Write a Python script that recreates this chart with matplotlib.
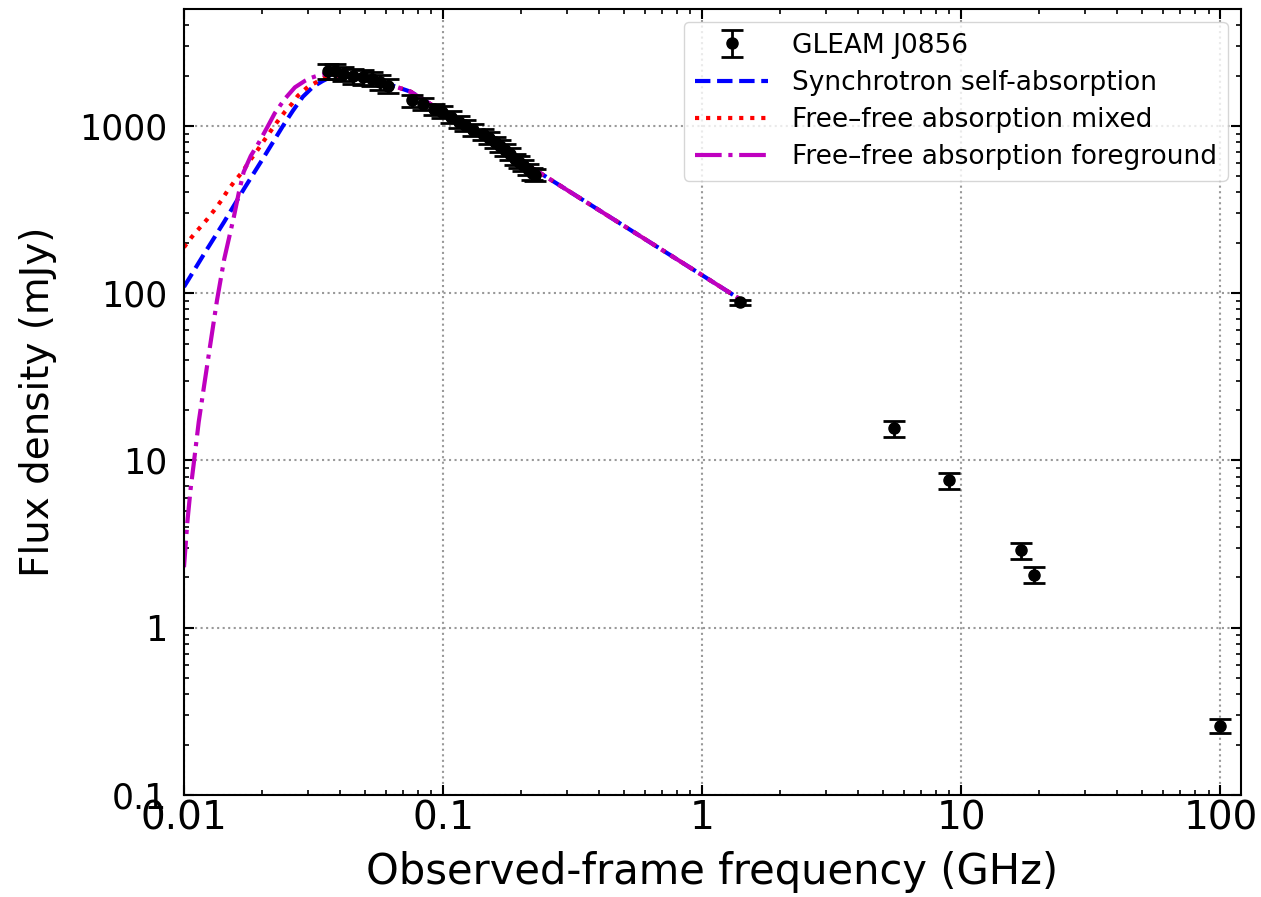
"""Radio SED of GLEAM J0856 with three absorption model fits."""

import matplotlib

matplotlib.use("Agg")
import matplotlib.pyplot as plt  # noqa: E402

# observed data (GHz, mJy)
nu_ghz = [0.0359, 0.0381, 0.0410, 0.0449, 0.0491, 0.0532, 0.0570, 0.0612,
          0.076, 0.084, 0.092, 0.099, 0.107, 0.115, 0.122, 0.130, 0.143,
          0.151, 0.158, 0.166, 0.174, 0.181, 0.189, 0.197, 0.204, 0.212,
          0.220, 0.227,
          1.4, 5.5, 9.0, 17.0, 19.0, 100.0]
flux_mjy = [2130, 2120, 2050, 1990, 1960, 1910, 1830, 1740,
            1420, 1350, 1260, 1210, 1130, 1060, 1010, 950, 890,
            850, 800, 760, 720, 680, 630, 610, 580, 550,
            520, 510,
            88, 15.6, 7.6, 2.9, 2.07, 0.26]
err_mjy = [210, 210, 200, 200, 195, 190, 180, 175,
           115, 110, 100, 97, 90, 85, 80, 76, 71,
           68, 64, 61, 58, 54, 50, 49, 46, 44,
           42, 41,
           3, 1.7, 0.85, 0.33, 0.23, 0.025]

# model curves
ssa_nu = [0.0100, 0.01194, 0.01427, 0.01704, 0.02035, 0.0241, 0.0263, 0.02875,
          0.0315, 0.03437, 0.03723, 0.040, 0.045, 0.050, 0.060, 0.075, 0.10,
          0.15, 0.24, 0.5, 1.0, 1.4]
ssa_mjy = [109, 171, 266, 420, 652, 1000, 1230, 1493,
           1714, 1859, 1975, 2000, 1980, 1930, 1800, 1600, 1210,
           817, 516, 252, 128, 92]

ffa_mix_nu = [0.0100, 0.0107, 0.0114, 0.0123, 0.0131, 0.0139, 0.0147, 0.0156,
              0.0168, 0.0178, 0.0190, 0.0202, 0.0215, 0.0229, 0.0245, 0.0261,
              0.0275, 0.0301, 0.0326, 0.035, 0.0385, 0.045, 0.050, 0.060,
              0.075, 0.10, 0.15, 0.24, 0.5, 1.0, 1.4]
ffa_mix_mjy = [188, 216, 242, 277, 314, 356, 408, 462,
               531, 608, 698, 802, 921, 1057, 1213, 1355,
               1513, 1714, 1833, 1950, 2000, 1980, 1930, 1800,
               1600, 1210, 817, 516, 252, 128, 92]

ffa_fg_nu = [0.0100, 0.0103, 0.0106, 0.0109, 0.0114, 0.0120, 0.0126, 0.0134,
             0.0143, 0.0156, 0.0163, 0.0170, 0.0181, 0.0195, 0.0211, 0.0224,
             0.0245, 0.0268, 0.0293, 0.031, 0.0326, 0.0345, 0.037, 0.040,
             0.045, 0.050, 0.060, 0.075, 0.10, 0.15, 0.24, 0.5, 1.0, 1.4]
ffa_fg_mjy = [2.3, 4.25, 6.7, 9.5, 17, 29, 48, 90,
              160, 289, 403, 531, 661, 800, 1000, 1190,
              1451, 1700, 1860, 1940, 1990, 2030, 2040, 2020,
              1980, 1930, 1800, 1600, 1210, 817, 516, 252, 128, 92]

xtick_vals = [0.01, 0.1, 1, 10, 100]
xtick_labels = ["0.01", "0.1", "1", "10", "100"]
ytick_vals = [0.1, 1, 10, 100, 1000]
ytick_labels = ["0.1", "1", "10", "100", "1000"]

fig = plt.figure(figsize=(12.61, 8.97), dpi=100)
ax = fig.add_axes([0.1459, 0.1137, 0.8382, 0.8763])

h_data = ax.errorbar(nu_ghz, flux_mjy, yerr=err_mjy, fmt="o", color="k",
                     ms=8, capsize=8, capthick=2, elinewidth=2,
                     label="GLEAM J0856", zorder=4)
h_ssa, = ax.plot(ssa_nu, ssa_mjy, "--", color="b", lw=3,
                 label="Synchrotron self-absorption")
h_mix, = ax.plot(ffa_mix_nu, ffa_mix_mjy, ":", color="r", lw=3,
                 label="Free\u2013free absorption mixed")
h_fg, = ax.plot(ffa_fg_nu, ffa_fg_mjy, "-.", color="m", lw=3,
                label="Free\u2013free absorption foreground")

ax.set_xscale("log")
ax.set_yscale("log")
ax.set_xlim(0.01, 120)
ax.set_ylim(0.1, 5000)
ax.set_xticks(xtick_vals, xtick_labels)
ax.set_yticks(ytick_vals, ytick_labels)
ax.tick_params(which="both", direction="in", top=True, right=True)
ax.tick_params(which="major", length=7, width=1.5)
ax.tick_params(which="minor", length=3.5, width=1.2)
ax.tick_params(axis="x", labelsize=28, pad=3)
ax.tick_params(axis="y", labelsize=25, pad=12)
for sp in ax.spines.values():
    sp.set_linewidth(1.5)
ax.grid(which="major", linestyle=":", color="#999999", lw=1.5)

ax.set_xlabel("Observed-frame frequency (GHz)", fontsize=30, labelpad=10)
ax.set_ylabel("Flux density (mJy)", fontsize=28, labelpad=16)

ax.legend(handles=[h_data, h_ssa, h_mix, h_fg], loc="upper right",
          fontsize=19, handlelength=2.8, labelspacing=0.42,
          handletextpad=0.9)

fig.savefig("out.png", dpi=100)
plt.close(fig)
